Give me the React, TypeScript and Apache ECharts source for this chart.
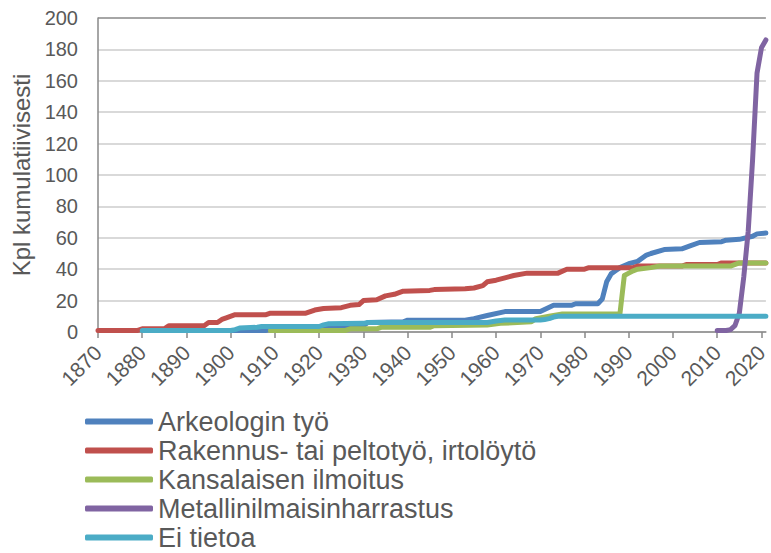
import React, { useEffect, useRef } from "react";
import * as echarts from "echarts";

const seriesNames = [
  "Arkeologin työ",
  "Rakennus- tai peltotyö, irtolöytö",
  "Kansalaisen ilmoitus",
  "Metallinilmaisinharrastus",
  "Ei tietoa",
];

const seriesColors = ["#4f81bd", "#c0504d", "#9bbb59", "#8064a2", "#4bacc6"];

const tickYears = [1870, 1880, 1890, 1900, 1910, 1920, 1930, 1940, 1950, 1960, 1970, 1980, 1990, 2000, 2010, 2020];

const arkeologi: [number, number][] = [
  [1900, 1], [1908, 1], [1909, 2], [1921, 2], [1922, 3], [1930, 4], [1931, 6], [1939, 6.5], [1940, 7.5],
  [1953, 7.5], [1955, 8.5], [1958, 10.5], [1962, 13], [1970, 13], [1973, 17], [1977, 17], [1978, 18],
  [1983, 18], [1984, 21], [1985, 32], [1986, 37], [1987, 39], [1988, 41], [1990, 43.5], [1992, 45],
  [1994, 49], [1995, 50], [1998, 52.5], [2002, 53], [2004, 55], [2006, 57], [2011, 57.5], [2012, 58.5],
  [2015, 59], [2018, 61], [2019, 62.5], [2021, 63],
];

const rakennus: [number, number][] = [
  [1870, 1], [1879, 1], [1880, 2], [1885, 2], [1886, 4], [1894, 4], [1895, 6], [1897, 6], [1898, 8],
  [1899, 9], [1901, 11], [1908, 11], [1909, 12], [1917, 12], [1919, 14], [1921, 15], [1925, 15.5],
  [1927, 17], [1929, 17.5], [1930, 20], [1933, 20.5], [1935, 23], [1937, 24], [1939, 26], [1945, 26.5],
  [1946, 27], [1953, 27.5], [1955, 28], [1957, 29.5], [1958, 32], [1960, 33], [1962, 34.5], [1964, 36],
  [1967, 37.5], [1974, 37.5], [1976, 40], [1980, 40], [1981, 41], [1991, 41], [1992, 42], [2002, 42],
  [2003, 43], [2010, 43], [2011, 44], [2021, 44],
];

const kansalainen: [number, number][] = [
  [1909, 1], [1926, 1], [1927, 2], [1933, 2], [1934, 3], [1945, 3], [1946, 4], [1958, 4.5], [1961, 5.5],
  [1968, 6.5], [1969, 8.5], [1972, 10], [1975, 11.5], [1988, 11.5], [1989, 36], [1990, 37.5], [1991, 39],
  [1992, 40], [1995, 41], [1997, 42], [2013, 42], [2015, 44], [2021, 44],
];

const metalli: [number, number][] = [
  [2010, 1], [2012, 1], [2013, 1.5], [2014, 4], [2015, 12], [2016, 35], [2017, 64], [2018, 110],
  [2019, 165], [2020, 181], [2021, 186],
];

const eiTietoa: [number, number][] = [
  [1880, 1], [1900, 1], [1901, 1.5], [1902, 2.5], [1906, 3], [1907, 3.5], [1920, 3.5], [1921, 4.5],
  [1922, 5.2], [1930, 5.5], [1931, 6], [1958, 6], [1959, 6.5], [1960, 7], [1962, 7.6], [1970, 7.6],
  [1971, 8], [1972, 8.5], [1973, 9.5], [1974, 10], [2021, 10],
];

const allData = [arkeologi, rakennus, kansalainen, metalli, eiTietoa];

const FONT = "'Liberation Sans', Arial, sans-serif";
const TEXT = "#595959";

export default function App() {
  const ref = useRef<HTMLDivElement>(null);
  useEffect(() => {
    document.body.style.margin = "0";
    if (!ref.current) return;
    const chart = echarts.init(ref.current, undefined, { renderer: "svg" });
    const gridColors = ["#d9d9d9", "#d9d9d9", "#d9d9d9", "#d9d9d9", "#d9d9d9", "#d9d9d9", "#d9d9d9", "#d9d9d9", "#d9d9d9", "#d9d9d9", "#a6a6a6"];
    chart.setOption({
      animation: false,
      backgroundColor: "#ffffff",
      grid: { left: 98, top: 18, right: 1, bottom: 221, containLabel: false },
      xAxis: {
        type: "value",
        min: 1870,
        max: 2021,
        interval: 10,
        splitLine: { show: false },
        axisLine: { lineStyle: { color: "#898989", width: 1.5 } },
        axisTick: { show: true, length: 6, customValues: tickYears, lineStyle: { color: "#898989", width: 1.5 } },
        axisLabel: {
          customValues: tickYears,
          rotate: 45,
          margin: 17,
          fontSize: 21,
          color: TEXT,
          fontFamily: FONT,
          formatter: (v: number) => String(v),
        },
      },
      yAxis: {
        type: "value",
        min: 0,
        max: 200,
        interval: 20,
        name: "Kpl kumulatiivisesti",
        nameLocation: "middle",
        nameGap: 62,
        nameTextStyle: { fontSize: 24, color: TEXT, fontFamily: FONT },
        axisLine: { show: true, lineStyle: { color: "#898989", width: 1.5 } },
        axisTick: { show: false },
        axisLabel: { fontSize: 20, color: TEXT, fontFamily: FONT, margin: 20 },
        splitLine: { show: true, lineStyle: { color: gridColors, width: 2 } },
      },
      legend: {
        orient: "vertical",
        left: 80,
        top: 403,
        height: 300,
        icon: "roundRect",
        itemWidth: 68,
        itemHeight: 6,
        itemGap: 2,
        textStyle: { fontSize: 27, color: TEXT, fontFamily: FONT },
        data: seriesNames,
      },
      series: seriesNames.map((name, i) => ({
        name,
        type: "line",
        data: allData[i],
        showSymbol: false,
        symbol: "none",
        color: seriesColors[i],
        lineStyle: { width: 5, color: seriesColors[i], cap: "round", join: "round" },
        z: 2 + i,
      })),
    });
    return () => chart.dispose();
  }, []);
  return <div ref={ref} style={{ width: 771, height: 553 }} />;
}
